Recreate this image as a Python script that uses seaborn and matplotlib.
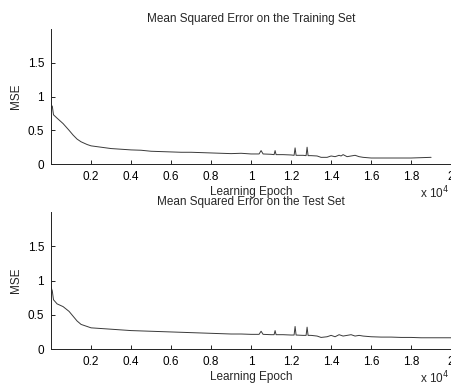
import matplotlib
matplotlib.use("Agg")
import matplotlib.pyplot as plt
import seaborn as sns
import pandas as pd

# ---- data ----
train_epoch = [0, 60, 120, 300, 600, 900, 1100, 1300, 1500, 1800, 2000, 2500, 3000, 3500, 4000, 4500,
               5000, 5500, 6000, 6500, 7000, 7500, 8000, 8500, 9000, 9500, 10000, 10400, 10500, 10600,
               11000, 11150, 11200, 11250, 11600, 12000, 12150, 12200, 12250, 12600, 12750, 12800, 12850,
               13000, 13300, 13500, 13800, 14000, 14200, 14400, 14500, 14600, 14800, 15000, 15200, 15400,
               15600, 16000, 16500, 17000, 17500, 18000, 18500, 19000]
train_mse = [0.85, 0.86, 0.73, 0.68, 0.6, 0.5, 0.43, 0.37, 0.33, 0.29, 0.27, 0.25, 0.23, 0.22, 0.21, 0.205,
             0.19, 0.185, 0.18, 0.175, 0.175, 0.17, 0.165, 0.16, 0.155, 0.16, 0.15, 0.15, 0.2, 0.15,
             0.145, 0.14, 0.2, 0.14, 0.14, 0.135, 0.13, 0.24, 0.13, 0.13, 0.125, 0.25, 0.125,
             0.125, 0.12, 0.1, 0.1, 0.12, 0.11, 0.13, 0.12, 0.14, 0.11, 0.12, 0.13, 0.11,
             0.1, 0.09, 0.09, 0.09, 0.09, 0.09, 0.095, 0.1]

test_epoch = [0, 60, 120, 300, 600, 900, 1100, 1300, 1500, 1800, 2000, 2500, 3000, 3500, 4000, 4500,
              5000, 5500, 6000, 6500, 7000, 7500, 8000, 8500, 9000, 9500, 10000, 10400, 10500, 10600,
              11000, 11150, 11200, 11250, 11600, 12000, 12150, 12200, 12250, 12600, 12750, 12800, 12850,
              13000, 13300, 13500, 13800, 14000, 14200, 14400, 14600, 14800, 15000, 15200, 15400,
              15600, 16000, 16500, 17000, 17500, 18000, 18500, 19000, 20000]
test_mse = [0.9, 0.85, 0.72, 0.66, 0.62, 0.55, 0.48, 0.41, 0.36, 0.33, 0.31, 0.3, 0.29, 0.28, 0.27, 0.265,
            0.26, 0.255, 0.25, 0.245, 0.24, 0.235, 0.23, 0.225, 0.22, 0.22, 0.215, 0.215, 0.26, 0.215,
            0.21, 0.21, 0.27, 0.21, 0.21, 0.205, 0.205, 0.33, 0.205, 0.2, 0.2, 0.32, 0.2,
            0.2, 0.19, 0.17, 0.18, 0.2, 0.18, 0.21, 0.19, 0.2, 0.21, 0.19, 0.2,
            0.19, 0.18, 0.175, 0.175, 0.17, 0.17, 0.165, 0.165, 0.165]

x_ticks = [2000, 4000, 6000, 8000, 10000, 12000, 14000, 16000, 18000, 20000]
x_tick_labels = ["0.2", "0.4", "0.6", "0.8", "1", "1.2", "1.4", "1.6", "1.8", "2"]
y_ticks = [0, 0.5, 1, 1.5]
y_tick_labels = ["0", "0.5", "1", "1.5"]
titles = ["Mean Squared Error on the Training Set", "Mean Squared Error on the Test Set"]

sns.set_style("ticks")
plt.rcParams["font.family"] = ["Liberation Sans", "DejaVu Sans"]
plt.rcParams["font.size"] = 8.5

fig = plt.figure(figsize=(4.52, 3.87), dpi=100)
ax1 = fig.add_axes([0.113, 0.576, 0.885, 0.349])
ax2 = fig.add_axes([0.113, 0.098, 0.885, 0.354])

frames = [pd.DataFrame({"epoch": train_epoch, "mse": train_mse}),
          pd.DataFrame({"epoch": test_epoch, "mse": test_mse})]

for ax, df, title in zip([ax1, ax2], frames, titles):
    sns.lineplot(data=df, x="epoch", y="mse", ax=ax, color="#3a3a3a", linewidth=0.7, estimator=None)
    ax.set_xlim(0, 20000)
    ax.set_ylim(0, 2)
    ax.set_xticks(x_ticks)
    ax.set_xticklabels(x_tick_labels)
    ax.set_yticks(y_ticks)
    ax.set_yticklabels(y_tick_labels)
    ax.tick_params(direction="in", length=3, width=0.6, labelsize=8.5, pad=5, colors="black")
    for s in ["top", "right"]:
        ax.spines[s].set_visible(False)
    for s in ["left", "bottom"]:
        ax.spines[s].set_linewidth(0.7)
        ax.spines[s].set_color("#222222")
    ax.set_xlabel("Learning Epoch", fontsize=8.5, labelpad=2)
    ax.set_ylabel("MSE", fontsize=8.5, labelpad=4)
    ax.set_title(title, fontsize=8.5, pad=5)
    ax.text(0.995, -0.15, r"x 10$^4$", transform=ax.transAxes, ha="right", va="top", fontsize=8.5,
            clip_on=False)

fig.savefig("out.png", dpi=100)
